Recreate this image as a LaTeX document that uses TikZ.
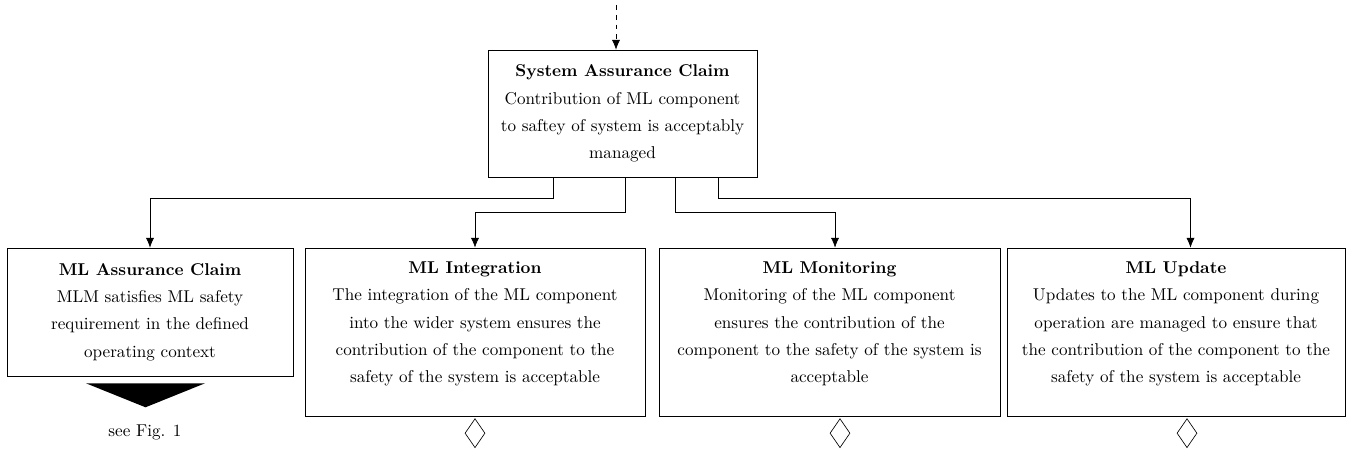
\documentclass[tikz,border=0pt]{standalone}
\usepackage{tikz}
\usetikzlibrary{arrows.meta, calc, shapes.geometric}
\newcommand{\bottompad}{\rule[-12pt]{0pt}{12pt}}

\begin{document}
\begin{tikzpicture}[x=0.6135pt, y=-0.6135pt,
  goal/.style={draw, rectangle, align=center, inner sep=0pt, font=\fontsize{10.5}{16.8}\selectfont},
  undev/.style={draw, diamond, inner sep=0pt, minimum width=12.3pt, minimum height=17.8pt, anchor=north},
  link/.style={-{Latex[length=6pt, width=5pt]}}
]
\useasboundingbox (0,0) rectangle (1352,451);

\node (sys) [goal, minimum width=165pt, minimum height=77.9pt] at (622.5,113.5)
  {\textbf{System Assurance Claim}\\ Contribution of ML component\\ to saftey of system is acceptably\\ managed};
\node (ac) [goal, minimum width=175.5pt, minimum height=78.5pt] at (150,312)
  {\textbf{ML Assurance Claim}\\ MLM satisfies ML safety\\ requirement in the defined\\ operating context};
\node (integ) [goal, minimum width=208.6pt, minimum height=103.1pt] at (475,332)
  {\textbf{ML Integration}\\ The integration of the ML component\\ into the wider system ensures the\\ contribution of the component to the\\ safety of the system is acceptable\bottompad};
\node (mon) [goal, minimum width=209.2pt, minimum height=103.1pt] at (829.5,332)
  {\textbf{ML Monitoring}\\ Monitoring of the ML component\\ ensures the contribution of the\\ component to the safety of the system is\\ acceptable\bottompad};
\node (upd) [goal, minimum width=207.4pt, minimum height=103.1pt] at (1176,332)
  {\textbf{ML Update}\\ Updates to the ML component during\\ operation are managed to ensure that\\ the contribution of the component to the\\ safety of the system is acceptable\bottompad};

% reference to the other figure
\fill (ac.south) ++(-64,7) -- ++(119,0) -- ++(-59.5,24) -- cycle;
\node (see) [font=\fontsize{10.5}{16.8}\selectfont] at ($(ac.south)+(-5,56)$) {see Fig. 1};

% undeveloped
\node (u1) [undev] at ($(integ.south)+(0,2)$) {};
\node (u2) [undev] at ($(mon.south)+(10.5,2)$) {};
\node (u3) [undev] at ($(upd.south)+(11,2)$) {};

\coordinate (parent) at (616,5);
\draw[link, dashed] (parent) -- (parent |- sys.north);

\draw[link] ($(sys.south west)!0.242!(sys.south east)$) -- ++(0,21) -| (ac.north);
\draw[link] ($(sys.south west)!0.509!(sys.south east)$) -- ++(0,35) -| (integ.north);
\draw[link] ($(sys.south west)!0.695!(sys.south east)$) -- ++(0,35) -| ([xshift=3.4pt]mon.north);
\draw[link] ($(sys.south west)!0.855!(sys.south east)$) -- ++(0,21) -| ([xshift=8.9pt]upd.north);
\end{tikzpicture}
\end{document}
